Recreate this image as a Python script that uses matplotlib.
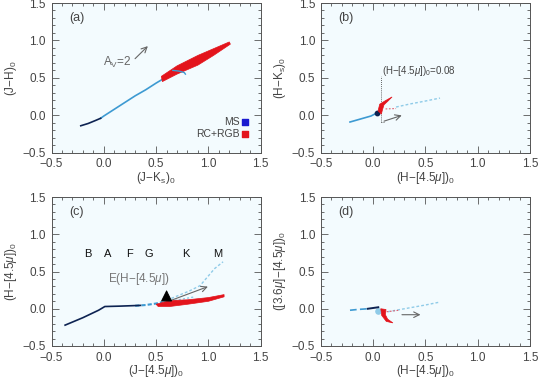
import matplotlib
matplotlib.use("Agg")
import matplotlib.pyplot as plt
from matplotlib.ticker import MultipleLocator

plt.rcParams['font.family'] = ['Liberation Sans', 'DejaVu Sans']
plt.rcParams['mathtext.fontset'] = 'custom'
plt.rcParams['mathtext.rm'] = 'Liberation Sans'
plt.rcParams['mathtext.it'] = 'Liberation Sans:italic'

# ---------------- data ----------------
# panel (a): (J-Ks)0 vs (J-H)0
a_ms_dark_x = [-0.22, -0.15, -0.08, -0.03]
a_ms_dark_y = [-0.14, -0.11, -0.07, -0.04]
a_ms_light_x = [-0.03, 0.0, 0.1, 0.2, 0.3, 0.4, 0.5, 0.56]
a_ms_light_y = [-0.04, -0.01, 0.08, 0.17, 0.26, 0.34, 0.43, 0.48]
a_hook_x = [0.66, 0.72, 0.77, 0.78]
a_hook_y = [0.60, 0.59, 0.57, 0.55]
a_red_x = [0.55, 0.70, 0.90, 1.05, 1.20, 1.21, 1.05, 0.90, 0.70, 0.56]
a_red_y = [0.52, 0.66, 0.80, 0.89, 0.98, 0.95, 0.80, 0.67, 0.55, 0.45]

# panel (b): (H-[4.5])0 vs (H-Ks)0
b_ms_x = [-0.22, -0.12, -0.02, 0.05]
b_ms_y = [-0.09, -0.05, -0.01, 0.04]
b_red_x = [0.048, 0.064, 0.112, 0.182, 0.143, 0.105, 0.089, 0.08]
b_red_y = [0.059, 0.148, 0.19, 0.245, 0.19, 0.14, 0.068, 0.015]
b_giant_x = [0.22, 0.35, 0.50, 0.64]
b_giant_y = [0.11, 0.15, 0.19, 0.23]
b_reddot_x = [0.12, 0.22]
b_reddot_y = [0.085, 0.09]
b_cut = 0.08

# panel (c): (J-[4.5])0 vs (H-[4.5])0
c_ms_dark_x = [-0.37, -0.2, -0.05, 0.01, 0.15, 0.35]
c_ms_dark_y = [-0.22, -0.12, -0.02, 0.03, 0.035, 0.045]
c_ms_light_x = [0.30, 0.40, 0.50, 0.56]
c_ms_light_y = [0.04, 0.05, 0.07, 0.09]
c_giant_up_x = [0.56, 0.70, 0.82, 0.92, 1.06, 1.14]
c_giant_up_y = [0.09, 0.17, 0.24, 0.31, 0.54, 0.63]
c_giant_lo_x = [0.60, 0.75, 0.87]
c_giant_lo_y = [0.09, 0.13, 0.16]
c_red_x = [0.50, 0.63, 0.80, 1.00, 1.15, 1.15, 1.00, 0.80, 0.63, 0.52]
c_red_y = [0.06, 0.11, 0.12, 0.15, 0.19, 0.16, 0.10, 0.06, 0.03, 0.03]
sp_types = ['B', 'A', 'F', 'G', 'K', 'M']
sp_x = [-0.15, 0.04, 0.25, 0.43, 0.78, 1.09]

# panel (d): (H-[4.5])0 vs ([3.6]-[4.5])0
d_ms_light_x = [-0.22, -0.15, -0.05]
d_ms_light_y = [-0.02, -0.01, 0.0]
d_ms_dark_x = [-0.05, 0.0, 0.05]
d_ms_dark_y = [0.0, 0.01, 0.02]
d_red_x = [0.074, 0.083, 0.127, 0.19, 0.14, 0.118, 0.124]
d_red_y = [0.0, -0.09, -0.17, -0.19, -0.14, -0.08, -0.01]
d_giant_x = [0.14, 0.30, 0.50, 0.64]
d_giant_y = [-0.04, 0.0, 0.05, 0.09]
d_reddot_x = [0.13, 0.25]
d_reddot_y = [-0.04, -0.02]

# ---------------- style ----------------
DARK = '#0d2352'
LIGHT = '#3d9ad2'
PALE = '#8fcbe8'
RED = '#e3141c'
BG = '#f3fbfe'
TXT = '#444444'
FS = 8.5

fig = plt.figure(figsize=(5.38, 3.82), dpi=100)
W, H = 538.0, 382.0


def make_ax(l, r, t, b):
    ax = fig.add_axes([l / W, 1 - b / H, (r - l) / W, (b - t) / H])
    ax.set_facecolor(BG)
    ax.set_xlim(-0.5, 1.5)
    ax.set_ylim(-0.5, 1.5)
    ax.xaxis.set_major_locator(MultipleLocator(0.5))
    ax.yaxis.set_major_locator(MultipleLocator(0.5))
    ax.xaxis.set_minor_locator(MultipleLocator(0.1))
    ax.yaxis.set_minor_locator(MultipleLocator(0.1))
    ax.tick_params(which='both', direction='in', top=True, right=True,
                   color='#555555', labelcolor=TXT, labelsize=FS, width=0.6)
    ax.tick_params(which='major', length=5, pad=4)
    ax.tick_params(which='minor', length=2.5)
    ax.xaxis.set_major_formatter(plt.FuncFormatter(
        lambda v, p: ('%.1f' % v).replace('-', '\u2212')))
    ax.yaxis.set_major_formatter(plt.FuncFormatter(
        lambda v, p: ('%.1f' % v).replace('-', '\u2212')))
    for s in ax.spines.values():
        s.set_color('#555555')
        s.set_linewidth(0.7)
    return ax


axa = make_ax(51.5, 260.7, 3, 152.7)
axb = make_ax(320.7, 530, 3, 152.7)
axc = make_ax(51.5, 260.7, 197, 346)
axd = make_ax(320.7, 530, 197, 346)


def labels(ax, xl, yl):
    ax.set_xlabel(xl, fontsize=FS, color=TXT)
    ax.set_ylabel(yl, fontsize=FS, color=TXT)
    ax.xaxis.set_label_coords(0.5, -0.115)
    ax.yaxis.set_label_coords(-0.155, 0.5)


labels(axa, r'(J$-$K$_{\rm s}$)$_0$', r'(J$-$H)$_0$')
labels(axb, r'(H$-$[4.5$\mu$])$_0$', r'(H$-$K$_{\rm s}$)$_0$')
labels(axc, r'(J$-$[4.5$\mu$])$_0$', r'(H$-$[4.5$\mu$])$_0$')
labels(axd, r'(H$-$[4.5$\mu$])$_0$', r'([3.6$\mu$]$-$[4.5$\mu$])$_0$')

for ax, t in zip([axa, axb, axc, axd], ['(a)', '(b)', '(c)', '(d)']):
    ax.text(-0.33, 1.3, t, fontsize=FS + 0.5, color=TXT, va='center')

# ---- (a)
axa.fill(a_red_x, a_red_y, color=RED, lw=0.5, ec=RED, zorder=3)
axa.plot(a_ms_light_x, a_ms_light_y, color=LIGHT, lw=1.2, zorder=2)
axa.plot(a_ms_dark_x, a_ms_dark_y, color=DARK, lw=1.2, zorder=2)
axa.plot(a_hook_x, a_hook_y, color=LIGHT, lw=1.0, zorder=4)
axa.annotate('', xy=(0.44, 0.95), xytext=(0.28, 0.73),
             arrowprops=dict(arrowstyle='->', color='#666666', lw=0.8))
axa.text(0.27, 0.70, r'A$_{\rm V}$=2', fontsize=FS, color='#666666',
         ha='right', va='center')
axa.text(1.30, -0.09, 'MS', fontsize=FS - 1, color=TXT, ha='right', va='center')
axa.text(1.30, -0.25, 'RC+RGB', fontsize=FS - 1, color=TXT, ha='right', va='center')
axa.scatter([1.35], [-0.09], marker='s', s=20, color='#1a1ad0', zorder=5)
axa.scatter([1.35], [-0.25], marker='s', s=20, color=RED, zorder=5)

# ---- (b)
axb.plot(b_ms_x, b_ms_y, color=LIGHT, lw=1.2, zorder=2)
axb.scatter([0.04], [0.03], s=10, color=DARK, zorder=3)
axb.fill(b_red_x, b_red_y, color=RED, ec=RED, lw=0.5, zorder=3)
axb.plot(b_giant_x, b_giant_y, color=PALE, lw=1.0, ls=(0, (2, 1.5)), zorder=2)
axb.plot(b_reddot_x, b_reddot_y, color='#e06070', lw=0.8, ls=(0, (1.5, 1.5)), zorder=2)
axb.plot([b_cut, b_cut], [-0.09, 0.53], color='#333333', lw=0.6, ls=(0, (1, 1.5)))
axb.plot([b_cut, 0.11], [-0.09, -0.09], color='#333333', lw=0.6, ls=(0, (1, 1.5)))
axb.text(b_cut + 0.01, 0.585, r'(H$-$[4.5$\mu$])$_0$=0.08', fontsize=FS - 1.5,
         color=TXT, ha='left', va='center')
axb.annotate('', xy=(0.30, 0.01), xytext=(0.08, -0.09),
             arrowprops=dict(arrowstyle='->', color='#666666', lw=0.8))

# ---- (c)
axc.plot(c_giant_up_x, c_giant_up_y, color=PALE, lw=1.0, ls=(0, (2, 1.5)), zorder=2)
axc.plot(c_giant_lo_x, c_giant_lo_y, color=PALE, lw=1.0, ls=(0, (1.5, 1.5)), zorder=2)
axc.plot(c_ms_light_x, c_ms_light_y, color=LIGHT, lw=1.5, ls=(0, (2, 1)), zorder=2)
axc.plot(c_ms_dark_x, c_ms_dark_y, color=DARK, lw=1.2, zorder=3)
axc.fill(c_red_x, c_red_y, color=RED, ec=RED, lw=0.5, zorder=3)
for s, x in zip(sp_types, sp_x):
    axc.text(x, 0.73, s, fontsize=FS - 0.5, color='#111111', ha='center', va='center')
axc.annotate('', xy=(1.02, 0.31), xytext=(0.60, 0.09),
             arrowprops=dict(arrowstyle='->', color='#666666', lw=0.8), zorder=4)
axc.annotate('', xy=(0.60, 0.29), xytext=(0.60, 0.08),
             arrowprops=dict(arrowstyle='-|>,head_width=0.35,head_length=0.7',
                             color='black', lw=0.8), zorder=5)
axc.text(0.33, 0.40, r'E(H$-$[4.5$\mu$])', fontsize=FS, color='#777777',
         ha='center', va='center')

# ---- (d)
axd.plot(d_ms_light_x, d_ms_light_y, color=LIGHT, lw=1.2, ls=(0, (4, 2)), zorder=2)
axd.plot(d_ms_dark_x, d_ms_dark_y, color=DARK, lw=1.4, zorder=3)
axd.scatter([0.05], [-0.03], s=14, color=PALE, zorder=2)
axd.fill(d_red_x, d_red_y, color=RED, ec=RED, lw=0.5, zorder=3)
axd.plot(d_giant_x, d_giant_y, color=PALE, lw=1.0, ls=(0, (2, 1.5)), zorder=2)
axd.plot(d_reddot_x, d_reddot_y, color='#e06070', lw=0.8, ls=(0, (1.5, 1.5)), zorder=2)
axd.annotate('', xy=(0.48, -0.08), xytext=(0.25, -0.08),
             arrowprops=dict(arrowstyle='->', color='#666666', lw=0.8))

fig.savefig('out.png', dpi=100, facecolor='white')
